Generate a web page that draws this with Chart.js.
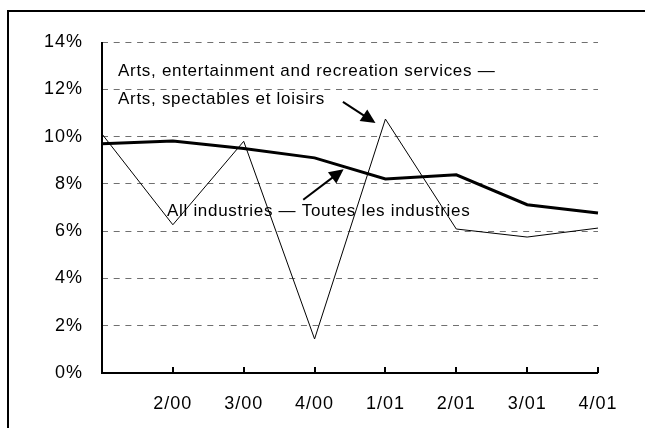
<!DOCTYPE html>
<html>
<head>
<meta charset="utf-8">
<script src="https://cdn.jsdelivr.net/npm/chart.js@4.4.1/dist/chart.umd.min.js"></script>
<style>
  html, body { margin: 0; padding: 0; background: #fff; overflow: hidden; }
  canvas { display: block; }
</style>
</head>
<body>
<canvas id="chart" width="645" height="428"></canvas>
<script>
// quarters (first category label is not printed on the axis)
const quarters = ['1/00', '2/00', '3/00', '4/00', '1/01', '2/01', '3/01', '4/01'];
const allIndustries = [9.70, 9.81, 9.50, 9.10, 8.21, 8.38, 7.12, 6.77];
const artsRecreation = [10.11, 6.27, 9.80, 1.44, 10.74, 6.09, 5.75, 6.13];
const yTicks = [0, 2, 4, 6, 8, 10, 12, 14];

// annotation text and arrows, placed in data units (category index, percent)
const notes = [
  { text: 'Arts, entertainment and recreation services \u2014', x: 0.226, y: 12.75 },
  { text: 'Arts, spectables et loisirs', x: 0.226, y: 11.56 },
  { text: 'All industries \u2014 Toutes les industries', x: 0.917, y: 6.82 }
];
const arrows = [
  { from: [3.40, 11.47], to: [3.86, 10.57] },
  { from: [2.84, 7.33], to: [3.41, 8.62] }
];

const FONT = 'Arial, "Liberation Sans", sans-serif';

// outer frame (left and top edges only) + wider letter spacing
const framePlugin = {
  id: 'frame',
  beforeDraw(chart) {
    const ctx = chart.ctx;
    ctx.save();
    ctx.fillStyle = '#000';
    ctx.fillRect(7, 10, chart.width - 7, 2);
    ctx.fillRect(7, 10, 2, chart.height - 10);
    ctx.restore();
    ctx.letterSpacing = '1px';
  }
};

const annotationsPlugin = {
  id: 'annotations',
  afterDatasetsDraw(chart) {
    const ctx = chart.ctx;
    const xs = chart.scales.x, ys = chart.scales.y;
    const area = chart.chartArea;
    ctx.save();
    ctx.setLineDash([]);

    // solid axis lines
    ctx.strokeStyle = '#000';
    ctx.lineWidth = 2;
    ctx.beginPath();
    ctx.moveTo(area.left, area.top);
    ctx.lineTo(area.left, area.bottom);
    ctx.lineTo(area.right, area.bottom);
    ctx.stroke();

    // inward tick marks on the category axis
    for (let i = 1; i < quarters.length; i++) {
      const px = Math.round(xs.getPixelForValue(i));
      ctx.beginPath();
      ctx.moveTo(px, ys.bottom);
      ctx.lineTo(px, ys.bottom - 6);
      ctx.stroke();
    }

    ctx.fillStyle = '#000';
    ctx.font = '17px ' + FONT;
    ctx.letterSpacing = '0.7px';
    ctx.textBaseline = 'middle';
    ctx.textAlign = 'left';
    notes.forEach(n => {
      ctx.fillText(n.text, xs.getPixelForValue(n.x), ys.getPixelForValue(n.y));
    });

    arrows.forEach(a => {
      const x1 = xs.getPixelForValue(a.from[0]), y1 = ys.getPixelForValue(a.from[1]);
      const x2 = xs.getPixelForValue(a.to[0]), y2 = ys.getPixelForValue(a.to[1]);
      const ang = Math.atan2(y2 - y1, x2 - x1);
      const head = 16, half = 0.45;
      ctx.lineWidth = 2;
      ctx.beginPath();
      ctx.moveTo(x1, y1);
      ctx.lineTo(x2 - Math.cos(ang) * head * 0.8, y2 - Math.sin(ang) * head * 0.8);
      ctx.stroke();
      ctx.beginPath();
      ctx.moveTo(x2, y2);
      ctx.lineTo(x2 - head * Math.cos(ang - half), y2 - head * Math.sin(ang - half));
      ctx.lineTo(x2 - head * Math.cos(ang + half), y2 - head * Math.sin(ang + half));
      ctx.closePath();
      ctx.fill();
    });
    ctx.restore();
  }
};

new Chart(document.getElementById('chart'), {
  type: 'line',
  data: {
    labels: quarters,
    datasets: [
      {
        label: 'All industries',
        data: allIndustries,
        borderColor: '#000',
        borderWidth: 3,
        pointRadius: 0,
        tension: 0,
        fill: false
      },
      {
        label: 'Arts, entertainment and recreation services',
        data: artsRecreation,
        borderColor: '#000',
        borderWidth: 1,
        pointRadius: 0,
        tension: 0,
        fill: false
      }
    ]
  },
  options: {
    responsive: false,
    animation: false,
    events: [],
    layout: { padding: { left: 0, top: 42, right: 47, bottom: 0 } },
    plugins: { legend: { display: false }, tooltip: { enabled: false } },
    scales: {
      x: {
        offset: false,
        grid: { display: false, drawTicks: false },
        border: { display: false },
        ticks: {
          color: '#000',
          font: { family: FONT, size: 18 },
          padding: 20,
          maxRotation: 0,
          autoSkip: false,
          callback: (v, i) => (i === 0 ? '' : quarters[i])
        },
        afterFit: s => { s.height = 55; }
      },
      y: {
        min: 0,
        max: 14,
        afterBuildTicks: s => { s.ticks = yTicks.map(v => ({ value: v })); },
        grid: {
          drawTicks: false,
          color: c => (c.tick && c.tick.value === 0 ? 'rgba(0,0,0,0)' : '#707070'),
          lineWidth: 1
        },
        border: { display: false, dash: [6, 5.7] },
        ticks: {
          color: '#000',
          font: { family: FONT, size: 18 },
          padding: 19,
          callback: v => v + '%'
        },
        afterFit: s => { s.width = 102; }
      }
    }
  },
  plugins: [framePlugin, annotationsPlugin]
});
</script>
</body>
</html>
